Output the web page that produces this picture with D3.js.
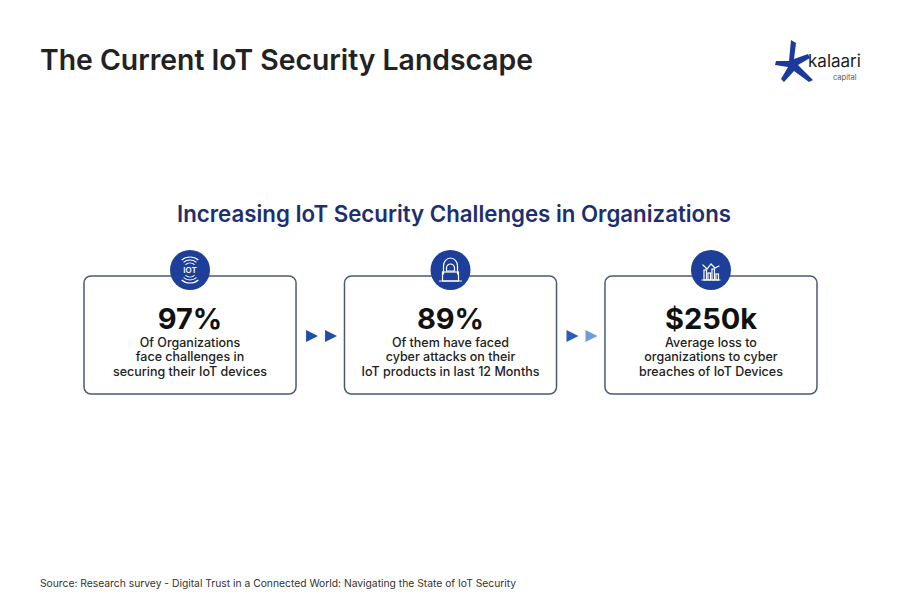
<!DOCTYPE html>
<html><head><meta charset="utf-8">
<script src="https://cdn.jsdelivr.net/npm/d3@7"></script>
<style>body{margin:0;background:#fff}svg{display:block}</style>
</head><body>
<script>
const title = "The Current IoT Security Landscape";
const subtitle = "Increasing IoT Security Challenges in Organizations";
const categories = ["iot", "attack", "loss"];
const statValues = ["97%", "89%", "$250k"];
const descLines = [
  ["Of Organizations", "face challenges in", "securing their IoT devices"],
  ["Of them have faced", "cyber attacks on their", "IoT products in last 12 Months"],
  ["Average loss to", "organizations to cyber", "breaches of IoT Devices"]
];
const source = "Source: Research survey - Digital Trust in a Connected World: Navigating the State of IoT Security";

const W = 902, H = 602;
const FONT = "Inter, 'Open Sans', sans-serif";
const svg = d3.select("body").append("svg").attr("width", W).attr("height", H);
svg.append("rect").attr("width", W).attr("height", H).attr("fill", "#fff");

function fit(sel, target) {
  const n = sel.node();
  let fs = parseFloat(sel.attr("font-size"));
  const w = n.getComputedTextLength();
  if (w > 0) sel.attr("font-size", fs * target / w);
  return sel;
}

// Title
fit(svg.append("text").attr("x", 40).attr("y", 70).attr("font-family", FONT)
  .attr("font-weight", 600).attr("font-size", 28).attr("fill", "#222").text(title), 493);

// Logo
const logo = svg.append("g").attr("transform", "translate(775,40)");
logo.append("path").attr("fill", "#1b3a9c")
  .attr("d", "M16,0 L21,3 L19,19 L33,14 L35,18 L23,25 L38,40 L34,42 L19,31 L9,42 L6,39 L13,27 L0,25 L1,21 L14,21 Z");
logo.append("text").attr("x", 33).attr("y", 27).attr("font-family", FONT).attr("font-size", 17)
  .attr("fill", "#222").text("kalaari");
logo.append("text").attr("x", 58).attr("y", 40).attr("font-family", FONT).attr("font-size", 7.5)
  .attr("fill", "#555").text("capital");

// Subtitle
const st = svg.append("text").attr("x", 454).attr("y", 222).attr("text-anchor", "middle")
  .attr("font-family", FONT).attr("font-weight", 600).attr("font-size", 20).attr("fill", "#1d2f6f").text(subtitle);
fit(st, 554);

const x = d3.scaleBand().domain(categories).range([84, 817]).paddingInner(0.186).paddingOuter(0);
const boxTop = 276, boxH = 118;

const g = svg.selectAll("g.card").data(categories).join("g").attr("class", "card");
g.append("rect").attr("x", d => x(d)).attr("y", boxTop).attr("width", x.bandwidth()).attr("height", boxH)
  .attr("rx", 7).attr("fill", "#fff").attr("stroke", "#4a5a75").attr("stroke-width", 1.5);
g.append("circle").attr("cx", d => x(d) + x.bandwidth() / 2).attr("cy", boxTop - 6).attr("r", 20)
  .attr("fill", "#1d3f9a");
g.each(function (d, i) {
  const gg = d3.select(this);
  const cx = x(d) + x.bandwidth() / 2;
  gg.append("text").attr("x", cx).attr("y", 329).attr("text-anchor", "middle")
    .attr("font-family", FONT).attr("font-weight", 700).attr("font-size", 29).attr("fill", "#111").text(statValues[i]);
  descLines[i].forEach((l, j) => {
    gg.append("text").attr("x", cx).attr("y", 347 + j * 14.4).attr("text-anchor", "middle")
      .attr("font-family", FONT).attr("font-weight", 500).attr("font-size", 12.5).attr("fill", "#222").text(l);
  });
  // icons
  const ic = gg.append("g").attr("transform", `translate(${cx},${boxTop - 6})`)
    .attr("fill", "none").attr("stroke", "#fff").attr("stroke-width", 1.2).attr("stroke-linecap", "round");
  if (d === "iot") {
    [7, 10, 13].forEach(r => {
      ic.append("path").attr("d", d3.arc()({ innerRadius: r, outerRadius: r, startAngle: -0.7, endAngle: 0.7 }));
      ic.append("path").attr("d", d3.arc()({ innerRadius: r, outerRadius: r, startAngle: Math.PI - 0.7, endAngle: Math.PI + 0.7 }));
    });
    ic.append("text").attr("x", 0).attr("y", 3).attr("text-anchor", "middle").attr("stroke", "none")
      .attr("fill", "#fff").attr("font-family", FONT).attr("font-size", 8).attr("font-weight", 600).text("IOT");
  } else if (d === "attack") {
    ic.append("path").attr("d", "M-7,4 L-7,-4 A7,8 0 0 1 7,-4 L7,4");
    ic.append("path").attr("d", "M-4,-2 A4,4 0 0 1 4,-2 L4,1 L-4,1 Z");
    ic.append("rect").attr("x", -8).attr("y", 2).attr("width", 16).attr("height", 9);
    ic.append("line").attr("x1", -11).attr("x2", 11).attr("y1", 11).attr("y2", 11);
  } else {
    [-7, -3, 1, 5].forEach((bx, k) => {
      ic.append("rect").attr("x", bx).attr("y", [0, 3, -1, 4][k]).attr("width", 2.5).attr("height", [10, 7, 11, 6][k]);
    });
    ic.append("path").attr("d", "M-8,-5 L-4,-1 L0,-6 L4,-2 L8,-4");
    ic.append("line").attr("x1", -9).attr("x2", 9).attr("y1", 10).attr("y2", 10);
  }
});

// Arrows between cards
const arrowColors = [["#1f4ea8", "#1f4ea8"], ["#2a5db8", "#6f9de0"]];
categories.slice(0, 2).forEach((d, i) => {
  const start = x(d) + x.bandwidth() + 10;
  [0, 19].forEach((dx, k) => {
    const ax = start + dx;
    svg.append("path").attr("d", `M${ax},330 L${ax + 12},336 L${ax},342 Z`).attr("fill", arrowColors[i][k]);
  });
});

// Source
fit(svg.append("text").attr("x", 40).attr("y", 587).attr("font-family", FONT).attr("font-size", 10)
  .attr("fill", "#333").text(source), 477);
</script>
</body></html>
